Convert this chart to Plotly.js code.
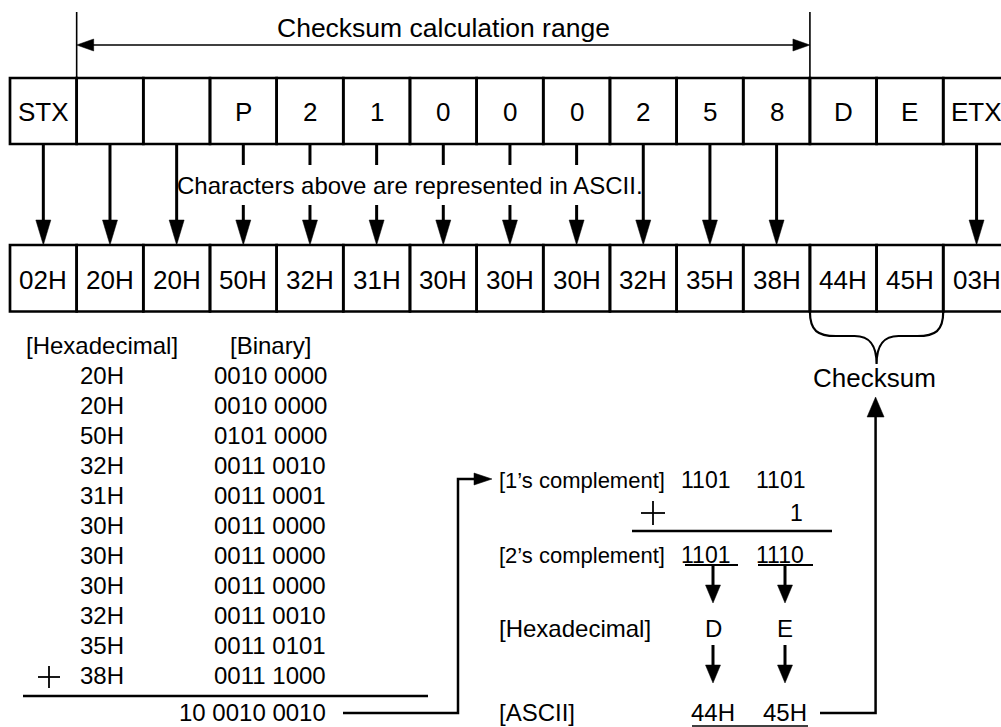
<!DOCTYPE html>
<html><head><meta charset="utf-8">
<script src="https://cdn.plot.ly/plotly-3.0.1.min.js"></script>
<style>html,body{margin:0;padding:0;background:#fff;}#chart{width:1001px;height:727px;}</style>
</head><body><div id="chart"></div>
<script>
// ---- data ----
const rangeLabel = 'Checksum calculation range';
const frameChars = ['STX', '', '', 'P', '2', '1', '0', '0', '0', '2', '5', '8', 'D', 'E', 'ETX'];
const asciiCodes = ['02H', '20H', '20H', '50H', '32H', '31H', '30H', '30H', '30H', '32H', '35H', '38H', '44H', '45H', '03H'];
const arrowKinds = ['full', 'full', 'full', 'ascii', 'ascii', 'ascii', 'ascii', 'ascii', 'ascii', 'full', 'full', 'full', 'none', 'none', 'full'];
const rangeStartCell = 1;
const rangeEndCell = 12;
const checksumCells = [12, 13];
const noteLabel = 'Characters above are represented in ASCII.';
const sumHeaders = ['[Hexadecimal]', '[Binary]'];
const sumHex = ['20H', '20H', '50H', '32H', '31H', '30H', '30H', '30H', '32H', '35H', '38H'];
const sumBinary = ['0010 0000', '0010 0000', '0101 0000', '0011 0010', '0011 0001', '0011 0000', '0011 0000', '0011 0000', '0011 0010', '0011 0101', '0011 1000'];
const sumTotal = '10 0010 0010';
const stepLabels = ['[1\u2019s complement]', '[2\u2019s complement]', '[Hexadecimal]', '[ASCII]'];
const onesComplement = ['1101', '1101'];
const addend = '1';
const twosComplement = ['1101', '1110'];
const checksumHex = ['D', 'E'];
const checksumAscii = ['44H', '45H'];
const checksumLabel = 'Checksum';

// ---- layout geometry (pixel-like axis units) ----
const FONT = 'Liberation Sans, Arial, sans-serif';
const X0 = 10, CW = 66.66;
const TOP = [78, 144], BOT = [245, 311.5];
const bx = k => X0 + k * CW;          // cell boundary
const cx = i => X0 + (i + 0.5) * CW;  // cell centre

const shapes = [];
const annotations = [];
const line = (x0, y0, x1, y1, w) => shapes.push({type: 'line', xref: 'x', yref: 'y', x0, y0, x1, y1, line: {color: '#000', width: w || 2.5}});
const head = (x, y, dir, len, half) => {
  let p;
  if (dir === 'down') p = `M ${x} ${y} L ${x - half} ${y - len} L ${x + half} ${y - len} Z`;
  if (dir === 'up') p = `M ${x} ${y} L ${x - half} ${y + len} L ${x + half} ${y + len} Z`;
  if (dir === 'right') p = `M ${x} ${y} L ${x - len} ${y - half} L ${x - len} ${y + half} Z`;
  if (dir === 'left') p = `M ${x} ${y} L ${x + len} ${y - half} L ${x + len} ${y + half} Z`;
  shapes.push({type: 'path', xref: 'x', yref: 'y', path: p, fillcolor: '#000', line: {color: '#000', width: 0.5}});
};
const text = (t, x, y, size, anchor) => annotations.push({
  text: t, x, y, xref: 'x', yref: 'y', showarrow: false, xanchor: anchor || 'center', yanchor: 'middle',
  font: {family: FONT, size: size, color: '#000'}
});
const plus = (x, y, half) => { line(x - half, y, x + half, y, 1.8); line(x, y - half, x, y + half, 1.8); };

// range indicator
line(bx(rangeStartCell), 12, bx(rangeStartCell), TOP[0], 1.6);
line(bx(rangeEndCell), 12, bx(rangeEndCell), TOP[0], 1.6);
line(bx(rangeStartCell) + 10, 45, bx(rangeEndCell) - 10, 45, 1.6);
head(bx(rangeStartCell), 45, 'left', 17, 6);
head(bx(rangeEndCell), 45, 'right', 17, 6);
text(rangeLabel, (bx(rangeStartCell) + bx(rangeEndCell)) / 2, 28, 26.5);

// rows of cells
frameChars.forEach((c, i) => {
  shapes.push({type: 'rect', xref: 'x', yref: 'y', x0: bx(i), x1: bx(i + 1), y0: TOP[0], y1: TOP[1], line: {color: '#000', width: 2.7}});
  shapes.push({type: 'rect', xref: 'x', yref: 'y', x0: bx(i), x1: bx(i + 1), y0: BOT[0], y1: BOT[1], line: {color: '#000', width: 2.7}});
  if (c) text(c, cx(i), 112, 26);
  text(asciiCodes[i], cx(i), 280, 26);
  const k = arrowKinds[i];
  if (k === 'full') {
    line(cx(i), TOP[1], cx(i), BOT[0] - 20, 3);
    head(cx(i), BOT[0], 'down', 25, 7.5);
  } else if (k === 'ascii') {
    line(cx(i), TOP[1], cx(i), 165, 3);
    line(cx(i), 205, cx(i), BOT[0] - 20, 3);
    head(cx(i), BOT[0], 'down', 25, 7.5);
  }
});
text(noteLabel, bx(6), 185, 24);

// checksum brace
const b0 = bx(checksumCells[0]), b1 = bx(checksumCells[1] + 1), bm = (b0 + b1) / 2;
shapes.push({type: 'path', xref: 'x', yref: 'y', line: {color: '#000', width: 2.2},
  path: `M ${b0} ${BOT[1]} C ${b0} 331 ${b0 + 8} 336 ${b0 + 26} 336 L ${bm - 22} 336 C ${bm - 6} 336 ${bm} 346 ${bm} 364 ` +
        `C ${bm} 346 ${bm + 6} 336 ${bm + 22} 336 L ${b1 - 26} 336 C ${b1 - 8} 336 ${b1} 331 ${b1} ${BOT[1]}`});
text(checksumLabel, bm - 2, 378, 26);

// ---- sum table (bottom left) ----
text(sumHeaders[0], 102, 345, 24);
text(sumHeaders[1], 270, 345, 24);
sumHex.forEach((h, i) => {
  text(h, 101.5, 375 + 30 * i, 24);
  text(sumBinary[i], 270, 375 + 30 * i, 24);
});
plus(49, 375 + 30 * (sumHex.length - 1) + 2, 11);
line(23, 696, 428, 696, 2.5);
text(sumTotal, 328, 712, 24, 'right');
shapes.push({type: 'path', xref: 'x', yref: 'y', line: {color: '#000', width: 2.5},
  path: 'M 343 713 L 458 713 L 458 479 L 476 479'});
head(492, 479, 'right', 18, 6);

// ---- complement steps (bottom right) ----
const colA = 713, colB = 785;
text(stepLabels[0], 497, 480, 22, 'left');
text(onesComplement[0], 705, 480, 23);
text(onesComplement[1], 780, 480, 23);
plus(653, 513, 12);
text(addend, 805, 513, 23, 'right');
line(632, 531, 832, 531, 2.5);
text(stepLabels[1], 497, 555, 22, 'left');
text(twosComplement[0], 705, 555, 23);
text(twosComplement[1], 780, 555, 23);
line(685, 565, 738, 565, 2.2);
line(758, 565, 813, 565, 2.2);
[colA, colB].forEach(x => {
  line(x, 565, x, 588, 3);
  head(x, 603, 'down', 18, 7.5);
  line(x, 645, x, 668, 3);
  head(x, 683, 'down', 18, 7.5);
});
text(stepLabels[2], 497, 628, 24, 'left');
text(checksumHex[0], colA, 628, 24);
text(checksumHex[1], colB, 628, 24);
text(stepLabels[3], 497, 712, 24, 'left');
text(checksumAscii[0], colA, 712, 24);
text(checksumAscii[1], colB, 712, 24);
line(692, 726, 808, 726, 1.6);
shapes.push({type: 'path', xref: 'x', yref: 'y', line: {color: '#000', width: 2.5},
  path: `M 820 713 L ${bm - 1} 713 L ${bm - 1} 415`});
head(bm - 1, 397, 'up', 20, 8.5);

const layout = {
  width: 1001, height: 727,
  margin: {l: 0, r: 0, t: 0, b: 0, pad: 0},
  paper_bgcolor: '#fff', plot_bgcolor: '#fff',
  showlegend: false,
  xaxis: {range: [0, 1001], visible: false, fixedrange: true},
  yaxis: {range: [727, 0], visible: false, fixedrange: true},
  shapes, annotations
};
Plotly.newPlot('chart', [{x: [], y: [], type: 'scatter', mode: 'markers', hoverinfo: 'skip'}], layout, {displayModeBar: false, staticPlot: true});
</script>
</body></html>
